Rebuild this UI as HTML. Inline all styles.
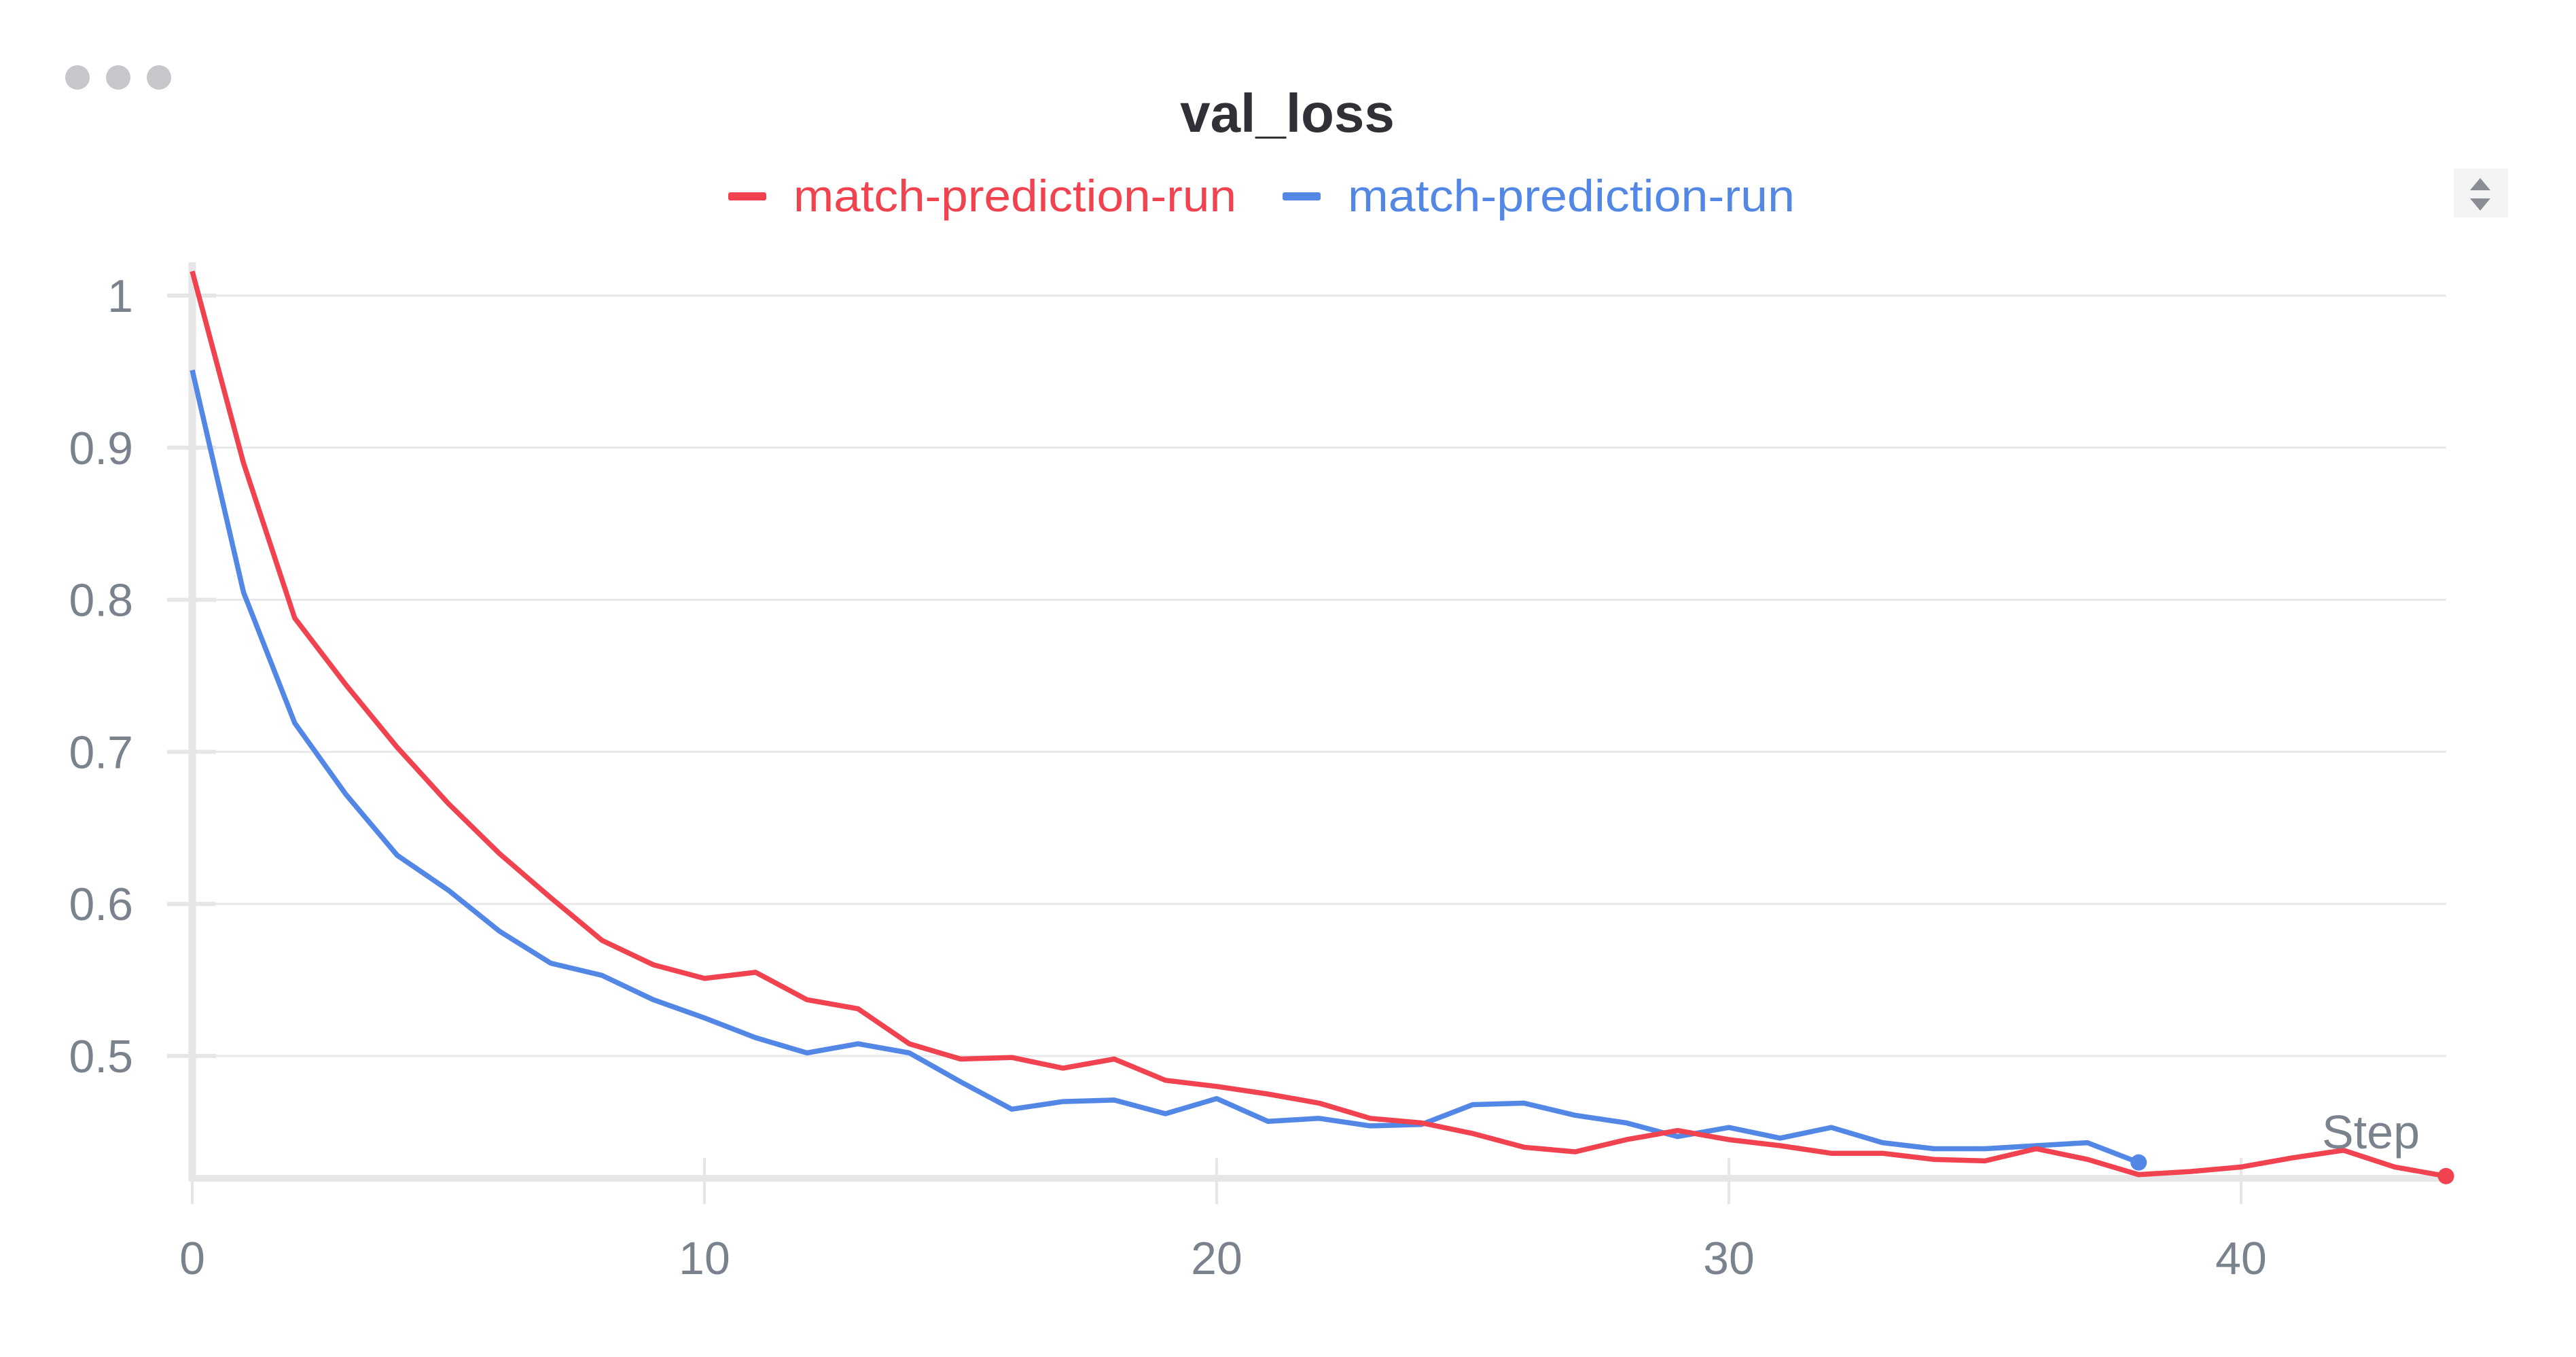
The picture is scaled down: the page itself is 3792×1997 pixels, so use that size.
<!DOCTYPE html>
<html><head><meta charset="utf-8"><style>
html,body{margin:0;padding:0;background:#fff;}
body{width:3792px;height:1992px;overflow:hidden;font-family:"Liberation Sans",sans-serif;}
</style></head><body>
<svg id="chart" width="3792" height="1992" viewBox="0 0 3792 1992" xmlns="http://www.w3.org/2000/svg">
  <g fill="#c6c7cb">
    <circle cx="114" cy="114" r="18"/><circle cx="174" cy="114" r="18"/><circle cx="234" cy="114" r="18"/>
  </g>
  <text x="1895" y="194" text-anchor="middle" font-size="80" font-weight="bold" fill="#2f3136">val_loss</text>
  <g font-size="66">
    <g>
      <rect x="1072" y="283" width="56" height="12" rx="3" fill="#f0434f"/>
      <text x="1168" y="311" fill="#f0434f" textLength="652" lengthAdjust="spacingAndGlyphs">match-prediction-run</text>
    </g>
    <g>
      <rect x="1888" y="283" width="56" height="12" rx="3" fill="#5387e5"/>
      <text x="1984" y="311" fill="#5387e5" textLength="658" lengthAdjust="spacingAndGlyphs">match-prediction-run</text>
    </g>
  </g>
  <g fill="#8a8d93">
    <rect x="3612" y="248" width="80" height="72" fill="#f4f4f5"/>
    <polygon points="3636,280 3666,280 3651,262" fill="#8a8d93"/>
    <polygon points="3636,292 3666,292 3651,310" fill="#8a8d93"/>
  </g>
  <g id="grid"></g>
  <g id="axes"></g>
  <g id="series"></g>
  <text x="3562" y="1690" text-anchor="end" font-size="70" fill="#7a828e">Step</text>
</svg>
<script>
const steps = Array.from({length:45},(_, i)=>i);
const redValues = [1.016,0.89,0.788,0.744,0.703,0.666,0.633,0.604,0.576,0.560,0.551,0.555,0.537,0.531,0.508,0.498,0.499,0.492,0.498,0.484,0.480,0.475,0.469,0.459,0.456,0.449,0.440,0.437,0.445,0.451,0.445,0.441,0.436,0.436,0.432,0.431,0.439,0.432,0.422,0.424,0.427,0.433,0.438,0.427,0.421];
const blueValues = [0.951,0.805,0.719,0.672,0.632,0.609,0.582,0.561,0.553,0.537,0.525,0.512,0.502,0.508,0.502,0.483,0.465,0.470,0.471,0.462,0.472,0.457,0.459,0.454,0.455,0.468,0.469,0.461,0.456,0.447,0.453,0.446,0.453,0.443,0.439,0.439,0.441,0.443,0.430];
const yTicks = [1,0.9,0.8,0.7,0.6,0.5];
const yTickLabels = ["1","0.9","0.8","0.7","0.6","0.5"];
const xTicks = [0,10,20,30,40];
const xTickLabels = ["0","10","20","30","40"];

const NS='http://www.w3.org/2000/svg';
const X0=283, XS=75.4, Y1=435, YS=2238, YMIN=0.4195, RIGHT=3601;
function xs(v){return X0+v*XS;}
function ys(v){return Y1+(1-v)*YS;}
function mk(tag,attrs,parent){const e=document.createElementNS(NS,tag);for(const k in attrs)e.setAttribute(k,attrs[k]);parent.appendChild(e);return e;}
const grid=document.getElementById('grid'), axes=document.getElementById('axes'), series=document.getElementById('series');
const bottom=ys(YMIN);
yTicks.forEach((t,i)=>{
  const y=ys(t);
  const l=mk('line',{x1:X0,x2:RIGHT,y1:y,y2:y,stroke:'#e8e8ea','stroke-width':3},grid);
  
  
  const tk=mk('line',{x1:246,x2:318,y1:y,y2:y,stroke:'#e6e6e8','stroke-width':6},axes);
  
  
  const tx=mk('text',{x:196,y:y+24,'text-anchor':'end','font-size':68,fill:'#7a828e'},axes);
  tx.textContent=yTickLabels[i];
  
  
});
const ya=mk('line',{x1:X0,x2:X0,y1:386,y2:bottom+4,stroke:'#e6e6e8','stroke-width':11},axes);


const xa=mk('line',{x1:X0-5,x2:RIGHT,y1:bottom,y2:bottom,stroke:'#e6e6e8','stroke-width':10},axes);


xTicks.forEach((t,i)=>{
  const x=xs(t);
  const tk=mk('line',{x1:x,x2:x,y1:bottom-30,y2:bottom+38,stroke:'#e6e6e8','stroke-width':4},axes);
  
  
  const tx=mk('text',{x:x,y:1875,'text-anchor':'middle','font-size':68,fill:'#7a828e'},axes);
  tx.textContent=xTickLabels[i];
  
  
});
function drawSeries(vals,color,name){
  const pts=vals.map((v,i)=>xs(steps[i]).toFixed(1)+','+ys(v).toFixed(1)).join(' ');
  const pl=mk('polyline',{points:pts,fill:'none',stroke:color,'stroke-width':7.5,'stroke-linejoin':'round'},series);
  
  
  const n=vals.length-1;
  const c=mk('circle',{cx:xs(steps[n]),cy:ys(vals[n]),r:12,fill:color},series);
  
  
}
drawSeries(blueValues,'#5387e5','blue-run');
drawSeries(redValues,'#f0434f','red-run');
</script>
</body></html>
